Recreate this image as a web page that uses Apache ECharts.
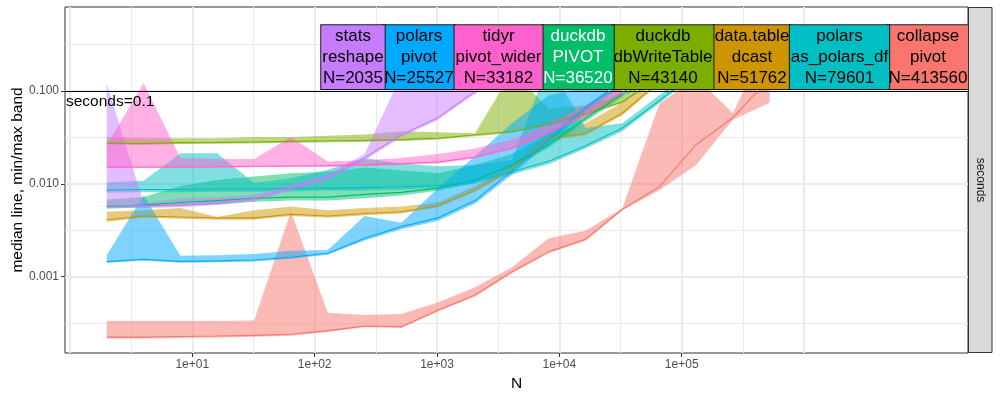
<!DOCTYPE html>
<html><head><meta charset="utf-8">
<script src="https://cdn.jsdelivr.net/npm/echarts@6/dist/echarts.min.js"></script>
<style>html,body{margin:0;padding:0;background:#fff}#c{width:1000px;height:400px}</style>
</head><body><div id="c"></div>
<script>
// ---- data ----
const N = [2,4,8,16,32,64,128,256,512,1024,2048,4096,8192,16384,32768,65536,131072,262144,524288];

const pkgNames = ['collapse','data.table','duckdb','duckdb','polars','polars','stats','tidyr'];
const funNames = ['pivot','dcast','dbWriteTable','PIVOT','as_polars_df','pivot','reshape','pivot_wider'];
const crossN   = [413560, 51762, 43140, 36520, 79601, 25527, 2035, 33182];
const labelAnchorN = [10300000, 375500, 70340, 14200, 1949000, 713, 205.6, 3184];
const colors   = ['#F8766D','#CD9600','#7CAE00','#00BE67','#00BFC4','#00A9FF','#C77CFF','#FF61CC'];
const textColors = ['#000','#000','#000','#fff','#000','#000','#000','#000'];

const collapseMed = [0.000223,0.000223,0.000226,0.000229,0.000233,0.000239,0.000262,0.000294,0.000289,0.000437,0.000635,0.00113,0.00186,0.00253,0.00533,0.0093,0.0264,0.0515,0.14];
const collapseMin = [0.000216,0.000215,0.000218,0.000221,0.000225,0.000231,0.000253,0.000284,0.000279,0.000422,0.000612,0.00109,0.00179,0.00243,0.00519,0.0085,0.016,0.049,0.075];
const collapseMax = [0.000333,0.000333,0.000333,0.000333,0.000336,0.00502,0.000409,0.000386,0.000396,0.00053,0.00077,0.00126,0.00259,0.00313,0.00547,0.073,0.14,0.058,0.4];

const dtMed = [0.0041,0.0045,0.0044,0.0043,0.0043,0.0047,0.0045,0.0048,0.0050,0.0058,0.0086,0.0145,0.031,0.035,0.058,0.126];
const dtMin = [0.0039,0.0043,0.0042,0.0041,0.0041,0.0045,0.0043,0.0046,0.0048,0.0056,0.0082,0.0138,0.0295,0.0335,0.055,0.12];
const dtMax = [0.0050,0.0052,0.0055,0.0044,0.0052,0.0057,0.0052,0.0055,0.0057,0.0063,0.0094,0.016,0.034,0.045,0.075,0.15];

const dbwMed = [0.0275,0.0272,0.0278,0.028,0.0283,0.0287,0.029,0.0294,0.030,0.031,0.0338,0.0367,0.0439,0.0569,0.0767,0.143];
const dbwMin = [0.0265,0.0262,0.0268,0.027,0.0273,0.0277,0.028,0.0284,0.029,0.030,0.0326,0.0354,0.0425,0.055,0.074,0.138];
const dbwMax = [0.032,0.031,0.031,0.031,0.032,0.032,0.033,0.034,0.037,0.036,0.035,0.16,0.065,0.07,0.09,0.16];

const pivotMed = [0.0057,0.0059,0.0063,0.0066,0.0070,0.0072,0.0072,0.0077,0.0081,0.0090,0.011,0.016,0.0264,0.051,0.093,0.2];
const pivotMin = [0.0054,0.0056,0.0058,0.0060,0.0064,0.0066,0.0066,0.0070,0.0075,0.0084,0.0102,0.015,0.0245,0.047,0.087,0.18];
const pivotMax = [0.0068,0.0072,0.0095,0.011,0.012,0.013,0.0135,0.015,0.014,0.013,0.016,0.021,0.035,0.07,0.13,0.25];

const apdMed = [0.0086,0.0087,0.0087,0.0088,0.0088,0.0089,0.0090,0.0091,0.0093,0.0096,0.0108,0.0135,0.0175,0.0257,0.040,0.0786,0.16];
const apdMin = [0.0080,0.0081,0.0081,0.0082,0.0082,0.0083,0.0084,0.0085,0.0087,0.0090,0.0101,0.0126,0.0163,0.024,0.037,0.074,0.15];
const apdMax = [0.0104,0.0108,0.0214,0.0214,0.0102,0.0115,0.0142,0.019,0.0165,0.0155,0.016,0.018,0.2,0.04,0.045,0.09,0.18];

const ppMed = [0.00145,0.00154,0.00146,0.00148,0.00151,0.00162,0.00179,0.00259,0.00346,0.0043,0.0066,0.0138,0.030,0.066,0.125];
const ppMin = [0.00141,0.00148,0.00141,0.00143,0.00146,0.00156,0.00172,0.00245,0.00325,0.0040,0.0061,0.0125,0.027,0.06,0.115];
const ppMax = [0.00171,0.0075,0.00168,0.0017,0.00175,0.0019,0.00194,0.0045,0.0038,0.009,0.02,0.045,0.09,0.11,0.15];

const statsMed = [0.0058,0.0058,0.0059,0.0062,0.0069,0.0090,0.0116,0.0191,0.0338,0.052,0.099,0.25];
const statsMin = [0.0055,0.0055,0.0056,0.0059,0.0065,0.0085,0.011,0.018,0.032,0.049,0.094,0.22];
const statsMax = [0.12,0.0062,0.0070,0.0072,0.0076,0.0098,0.0125,0.021,0.15,0.3,0.35,0.4];

const tidyrMed = [0.0151,0.0152,0.0152,0.0153,0.0155,0.0156,0.0157,0.016,0.0165,0.0172,0.0195,0.0245,0.036,0.056,0.098,0.18];
const tidyrMin = [0.0147,0.0148,0.0148,0.0149,0.0151,0.0152,0.0153,0.0156,0.016,0.0166,0.0188,0.0235,0.034,0.053,0.093,0.17];
const tidyrMax = [0.026,0.122,0.019,0.0185,0.0185,0.032,0.0174,0.018,0.019,0.021,0.024,0.03,0.045,0.07,0.12,0.2];

const THRESH = 0.1;
const xTickValues = [10,100,1000,10000,100000];
const xTickLabels = ['1e+01','1e+02','1e+03','1e+04','1e+05'];
const xMajorGrid = [1,10,100,1000,10000,100000,1000000];
const xMinorGrid = [3.1623,31.623,316.23,3162.3,31623,316228];
const yTickValues = [0.001,0.01,0.1];
const yTickLabels = ['0.001','0.010','0.100'];
const yMinorGrid = [0.00031623,0.0031623,0.031623,0.31623];
const X_MIN = 0.911, X_MAX = 2.188e7, Y_MIN = 1.503e-4, Y_MAX = 0.8054;

// ---- build ----
const meds = [collapseMed, dtMed, dbwMed, pivotMed, apdMed, ppMed, statsMed, tidyrMed];
const mins = [collapseMin, dtMin, dbwMin, pivotMin, apdMin, ppMin, statsMin, tidyrMin];
const maxs = [collapseMax, dtMax, dbwMax, pivotMax, apdMax, ppMax, statsMax, tidyrMax];
const FONT = '"Liberation Sans", Arial, Helvetica, sans-serif';

function lookup(vals, labels) {
  return function (v) {
    const i = vals.findIndex(t => Math.abs(t - v) / t < 1e-6);
    return i >= 0 ? labels[i] : '';
  };
}

const series = [];
// bands
meds.forEach((m, s) => {
  const lo = mins[s], hi = maxs[s];
  series.push({
    type: 'custom', name: 'band' + s, xAxisIndex: 0, yAxisIndex: 0, silent: true, z: 2,
    data: m.map((v, i) => [N[i], lo[i], hi[i]]),
    encode: { x: 0, y: [1, 2] },
    renderItem: function (params, api) {
      if (params.dataIndex !== 0) return;
      const top = [], bot = [];
      for (let i = 0; i < m.length; i++) {
        top.push(api.coord([N[i], hi[i]]));
        bot.push(api.coord([N[i], lo[i]]));
      }
      return { type: 'polygon', shape: { points: top.concat(bot.reverse()) },
               style: { fill: colors[s], opacity: 0.5 } };
    }
  });
});
// median lines
meds.forEach((m, s) => {
  series.push({
    type: 'line', name: 'med' + s, xAxisIndex: 0, yAxisIndex: 0, z: 3, silent: true,
    showSymbol: false, symbol: 'none',
    data: m.map((v, i) => [N[i], v]),
    lineStyle: { color: colors[s], width: 1.1 }
  });
});
// threshold line + crossing dots
series.push({
  type: 'scatter', name: 'cross', xAxisIndex: 0, yAxisIndex: 0, z: 4, silent: true,
  symbolSize: 4,
  data: crossN.map((n, s) => ({ value: [n, THRESH], itemStyle: { color: '#fff', borderColor: colors[s], borderWidth: 1, opacity: 1 } })),
  markLine: {
    silent: true, symbol: 'none', animation: false,
    lineStyle: { color: '#000', width: 1.2, type: 'solid', opacity: 1 },
    label: { show: true, position: 'insideStartBottom', formatter: 'seconds=' + THRESH,
             color: '#000', fontSize: 15.5, fontFamily: FONT, distance: [1, 3] },
    data: [{ yAxis: THRESH }]
  }
});
// direct labels
series.push({
  type: 'scatter', name: 'labels', xAxisIndex: 0, yAxisIndex: 0, z: 10, silent: true,
  symbolSize: 0, itemStyle: { opacity: 1 },
  data: labelAnchorN.map((n, s) => ({
    value: [n, THRESH],
    itemStyle: { opacity: 1 },
    label: {
      show: true, position: 'top', distance: 2, opacity: 1,
      formatter: pkgNames[s] + '\n' + funNames[s] + '\nN=' + crossN[s],
      backgroundColor: colors[s], color: textColors[s],
      borderColor: '#1a1a1a', borderWidth: 1,
      fontSize: 17, lineHeight: 21.3, padding: [0, 1], fontFamily: FONT, align: 'center'
    }
  }))
});

const gridAxisBase = {
  axisLine: { show: false }, axisLabel: { show: false }, minorTick: { show: false }
};

const chart = echarts.init(document.getElementById('c'), null, { renderer: 'canvas' });
chart.setOption({
  animation: false,
  backgroundColor: '#fff',
  grid: { left: 65, right: 32, top: 7, bottom: 47, show: true, borderColor: '#333', borderWidth: 1,
          backgroundColor: '#fff', containLabel: false, outerBoundsMode: 'none' },
  xAxis: [
    { type: 'log', logBase: 10, min: X_MIN, max: X_MAX, position: 'bottom', z: 5,
      axisLine: { show: false }, splitLine: { show: false },
      axisTick: { show: true, customValues: xTickValues, length: 4, lineStyle: { color: '#333' } },
      axisLabel: { show: true, customValues: xTickValues, formatter: lookup(xTickValues, xTickLabels),
                   color: '#4D4D4D', fontSize: 12, margin: 6, fontFamily: FONT },
      name: 'N', nameLocation: 'middle', nameGap: 21,
      nameTextStyle: { color: '#000', fontSize: 15.5, fontFamily: FONT } },
    Object.assign({ type: 'log', logBase: 10, min: X_MIN, max: X_MAX, z: 0,
      axisTick: { show: false, customValues: xMajorGrid },
      splitLine: { show: true, lineStyle: { color: '#EBEBEB', width: 2 } } }, gridAxisBase),
    Object.assign({ type: 'log', logBase: 10, min: X_MIN, max: X_MAX, z: 0,
      axisTick: { show: false, customValues: xMinorGrid },
      splitLine: { show: true, lineStyle: { color: '#EBEBEB', width: 1 } } }, gridAxisBase)
  ],
  yAxis: [
    { type: 'log', logBase: 10, min: Y_MIN, max: Y_MAX, position: 'left', z: 5,
      axisLine: { show: false }, splitLine: { show: false },
      axisTick: { show: true, customValues: yTickValues, length: 4, lineStyle: { color: '#333' } },
      axisLabel: { show: true, customValues: yTickValues, formatter: lookup(yTickValues, yTickLabels),
                   color: '#4D4D4D', fontSize: 12, margin: 6, fontFamily: FONT },
      name: 'median line, min/max band', nameLocation: 'middle', nameGap: 39, nameMoveOverlap: false,
      nameTextStyle: { color: '#000', fontSize: 15.5, fontFamily: FONT } },
    Object.assign({ type: 'log', logBase: 10, min: Y_MIN, max: Y_MAX, z: 0,
      axisTick: { show: false, customValues: yTickValues },
      splitLine: { show: true, lineStyle: { color: '#EBEBEB', width: 2 } } }, gridAxisBase),
    Object.assign({ type: 'log', logBase: 10, min: Y_MIN, max: Y_MAX, z: 0,
      axisTick: { show: false, customValues: yMinorGrid },
      splitLine: { show: true, lineStyle: { color: '#EBEBEB', width: 1 } } }, gridAxisBase)
  ],
  graphic: [
    { type: 'rect', z: 100, shape: { x: 968.5, y: 7.5, width: 23.5, height: 345 },
      style: { fill: '#D9D9D9', stroke: '#333', lineWidth: 1 } },
    { type: 'text', z: 101, x: 980.5, y: 180, rotation: -Math.PI / 2,
      style: { text: 'seconds', fill: '#1A1A1A', font: '12px ' + FONT, align: 'center', verticalAlign: 'middle' } }
  ],
  series: series
});
</script>
</body></html>
